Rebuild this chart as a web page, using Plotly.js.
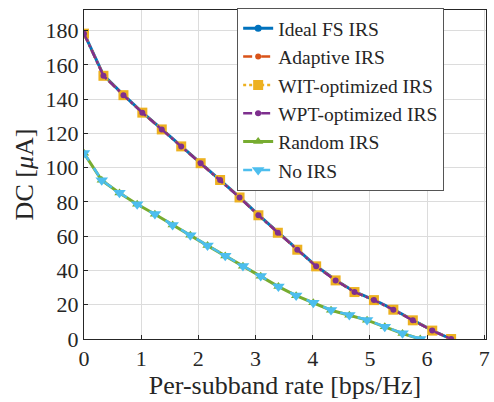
<!DOCTYPE html>
<html>
<head>
<meta charset="utf-8">
<script src="https://cdn.plot.ly/plotly-3.0.1.min.js"></script>
<style>body{margin:0;background:#fff}</style>
</head>
<body>
<div id="chart" style="width:494px;height:402px"></div>
<script>
// per-subband rate [bps/Hz]
const rateOpt = [0, 0.34, 0.69, 1.02, 1.36, 1.70, 2.04, 2.38, 2.72, 3.05, 3.39, 3.73, 4.06, 4.40, 4.73, 5.07, 5.41, 5.75, 6.09, 6.42];
const dcIdeal = [178.5, 154, 142.5, 132.3, 122.5, 112.6, 102.8, 93, 82.8, 72.4, 62.2, 52.3, 42.6, 34.4, 27.6, 22.9, 17.3, 11.1, 5.0, 0];
const dcAdaptive = [178.3, 153.8, 142.4, 132.2, 122.4, 112.5, 102.7, 92.9, 82.7, 72.3, 62.1, 52.2, 42.5, 34.3, 27.5, 22.8, 17.2, 11.0, 4.9, 0];
const dcWit = [178.2, 153.6, 142.3, 132.1, 122.3, 112.4, 102.6, 92.8, 82.6, 72.2, 62.0, 52.1, 42.4, 34.2, 27.4, 22.7, 17.1, 10.9, 4.9, 0];
const dcWpt = [178.2, 153.6, 142.3, 132.1, 122.3, 112.4, 102.6, 92.8, 82.6, 72.2, 62.0, 52.1, 42.4, 34.2, 27.4, 22.7, 17.1, 10.9, 4.9, 0];

const rateLow = [0, 0.31, 0.62, 0.93, 1.24, 1.55, 1.86, 2.16, 2.47, 2.78, 3.09, 3.40, 3.71, 4.01, 4.32, 4.64, 4.95, 5.26, 5.57, 5.88];
const dcRandom = [108.4, 92.6, 85.2, 78.6, 72.8, 66.5, 60.5, 54.5, 48.5, 42.5, 36.6, 30.6, 25.3, 21.1, 16.8, 13.9, 11.0, 7.1, 3.2, 0];
const dcNone = [108.6, 92.7, 85.3, 78.7, 72.9, 66.6, 60.6, 54.6, 48.6, 42.6, 36.7, 30.7, 25.4, 21.2, 16.9, 14.0, 11.1, 7.2, 3.3, 0];

const serif = 'Liberation Serif';

const traces = [
    { x: rateOpt, y: dcIdeal, name: 'Ideal FS IRS',
      line: { color: '#0072BD', width: 3, dash: 'solid' },
      marker: { symbol: 'circle', size: 7, color: '#0072BD' } },
    { x: rateOpt, y: dcAdaptive, name: 'Adaptive IRS',
      line: { color: '#D95319', width: 2.5, dash: 'dash' },
      marker: { symbol: 'circle', size: 6, color: '#D95319' } },
    { x: rateOpt, y: dcWit, name: 'WIT-optimized IRS',
      line: { color: '#EDB120', width: 2.5, dash: 'dot' },
      marker: { symbol: 'square', size: 10, color: '#EDB120' } },
    { x: rateOpt, y: dcWpt, name: 'WPT-optimized IRS',
      line: { color: '#7E2F8E', width: 2.5, dash: 'dashdot' },
      marker: { symbol: 'circle', size: 6, color: '#7E2F8E' } },
    { x: rateLow, y: dcRandom, name: 'Random IRS',
      line: { color: '#77AC30', width: 3, dash: 'solid' },
      marker: { symbol: 'triangle-up', size: 9, color: '#77AC30' } },
    { x: rateLow, y: dcNone, name: 'No IRS',
      line: { color: '#4DBEEE', width: 2.5, dash: 'dash' },
      marker: { symbol: 'triangle-down', size: 11, color: '#4DBEEE' } }
].map(t => Object.assign({ type: 'scatter', mode: 'lines+markers' }, t));

const layout = {
    width: 494,
    height: 402,
    margin: { l: 84, r: 8, t: 10, b: 63 },
    paper_bgcolor: '#fff',
    plot_bgcolor: '#fff',
    font: { family: serif, size: 20, color: '#262626' },
    showlegend: true,
    legend: {
        x: 0.381, y: 1.006, xanchor: 'left', yanchor: 'top',
        bgcolor: '#fff', bordercolor: '#555', borderwidth: 1,
        font: { family: serif, size: 19.5, color: '#262626' },
        tracegroupgap: 0, itemwidth: 30
    },
    xaxis: {
        range: [0, 7.03],
        tickvals: [0, 1, 2, 3, 4, 5, 6, 7],
        showgrid: true, gridcolor: '#dcdcdc',
        zeroline: false, showline: true, mirror: true,
        linecolor: '#262626', linewidth: 1,
        ticks: 'inside', ticklen: 4, tickcolor: '#262626',
        tickfont: { family: serif, size: 22 },
        title: { text: 'Per-subband rate [bps/Hz]', font: { family: serif, size: 26 }, standoff: 2 }
    },
    yaxis: {
        range: [0, 192],
        tickvals: [0, 20, 40, 60, 80, 100, 120, 140, 160, 180],
        showgrid: true, gridcolor: '#dcdcdc',
        zeroline: false, showline: true, mirror: true,
        linecolor: '#262626', linewidth: 1,
        ticks: 'inside', ticklen: 4, tickcolor: '#262626',
        tickfont: { family: serif, size: 22 },
        title: { text: 'DC [<i>μ</i>A]', font: { family: serif, size: 26 }, standoff: 4 }
    }
};

Plotly.newPlot('chart', traces, layout, { displayModeBar: false, staticPlot: true });
</script>
</body>
</html>
